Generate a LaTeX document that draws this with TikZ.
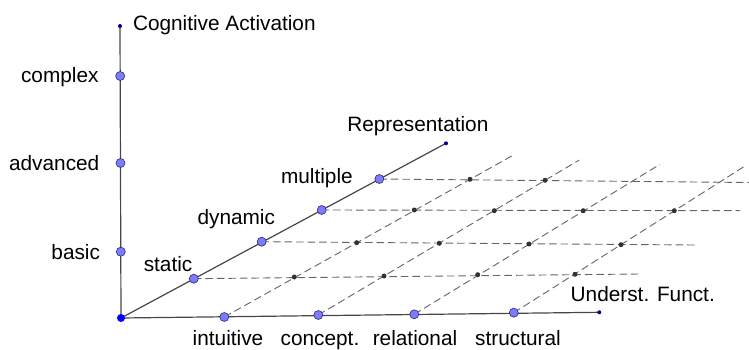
\documentclass[tikz,border=0pt]{standalone}
\usepackage{fontspec}
\setmainfont{Liberation Sans}
\usetikzlibrary{backgrounds}
\definecolor{ptfill}{RGB}{124,124,255}
\definecolor{ptdraw}{RGB}{40,40,110}
\definecolor{axisgray}{RGB}{70,70,70}
\definecolor{guidegray}{RGB}{100,100,100}
\definecolor{tipblue}{RGB}{0,0,150}
\begin{document}
\begin{tikzpicture}[x=1pt,y=-1pt,
  lbl/.style={font=\fontsize{20.8}{25}\selectfont, inner sep=0pt, outer sep=0pt},
  levelpt/.style={circle, draw=ptdraw, fill=ptfill, line width=0.6pt, inner sep=0pt, minimum size=9pt},
  originpt/.style={circle, fill=blue, inner sep=0pt, minimum size=8pt},
  meshdot/.style={circle, fill=black!80, inner sep=0pt, minimum size=5pt},
  endpt/.style={circle, fill=tipblue, inner sep=0pt, minimum size=4pt},
  axisline/.style={axisgray, line width=1.2pt},
  guide/.style={guidegray, line width=0.9pt, dash pattern=on 7.5pt off 4pt}]
\useasboundingbox (0,0) rectangle (749,350);
% axis ends
\node[originpt] (o) at (121,318) {};
\node[endpt] (ca) at (120,26) {};
\node[endpt] (re) at (446,143.3) {};
\node[endpt] (uf) at (599.3,312.3) {};
% cognitive activation
\node[levelpt] (c1) at (120.8,251.7) {};
\node[levelpt] (c2) at (120.5,163) {};
\node[levelpt] (c3) at (120.2,76) {};
% representation
\node[levelpt] (r1) at (193.8,278.7) {};
\node[levelpt] (r2) at (261.7,241.7) {};
\node[levelpt] (r3) at (321.7,210) {};
\node[levelpt] (r4) at (379.3,179) {};
% understanding of functions
\node[levelpt] (u1) at (224.3,317) {};
\node[levelpt] (u2) at (318.3,315) {};
\node[levelpt] (u3) at (414.3,314.3) {};
\node[levelpt] (u4) at (513.8,312.7) {};
% grid dots
\node[meshdot] (d11) at (294.3,277) {};
\node[meshdot] (d12) at (384,276) {};
\node[meshdot] (d13) at (477.7,274.7) {};
\node[meshdot] (d14) at (575,274.3) {};
\node[meshdot] (d21) at (356.7,242.7) {};
\node[meshdot] (d22) at (439.3,243.3) {};
\node[meshdot] (d23) at (529,244) {};
\node[meshdot] (d24) at (621,244.7) {};
\node[meshdot] (d31) at (414.3,210) {};
\node[meshdot] (d32) at (494.3,210.7) {};
\node[meshdot] (d33) at (583.3,210.7) {};
\node[meshdot] (d34) at (674.3,210.7) {};
\node[meshdot] (d41) at (470,179.3) {};
\node[meshdot] (d42) at (545,180.3) {};
% ends of the dashed lines
\coordinate (h1) at (640,274);
\coordinate (h2) at (695,245);
\coordinate (h3) at (740,210.7);
\coordinate (h4) at (749,182.5);
\coordinate (k1) at (511.7,156);
\coordinate (k2) at (579.3,160);
\coordinate (k3) at (660,164.3);
\coordinate (k4) at (745,166);
\begin{scope}[on background layer]
% dashed grid
\draw[guide] (r1.center) -- (h1);
\draw[guide] (r2.center) -- (h2);
\draw[guide] (r3.center) -- (h3);
\draw[guide] (r4.center) -- (h4);
\draw[guide] (u1.center) -- (k1);
\draw[guide] (u2.center) -- (k2);
\draw[guide] (u3.center) -- (k3);
\draw[guide] (u4.center) -- (k4);
% axes
\draw[axisline] (o.center) -- (ca.center);
\draw[axisline] (o.center) -- (re.center);
\draw[axisline] (o.center) -- (uf.center);
\end{scope}
% labels
\node[lbl, anchor=base west] at (133,30.7) {Cognitive Activation};
\node[lbl, anchor=base east] at (98.5,83) {complex};
\node[lbl, anchor=base east] at (99.3,170) {advanced};
\node[lbl, anchor=base east] at (100,259) {basic};
\node[lbl, anchor=base east] at (192.3,271.7) {static};
\node[lbl, anchor=base east] at (275,224) {dynamic};
\node[lbl, anchor=base east] at (352.7,183.3) {multiple};
\node[lbl, anchor=base west] at (347.3,131.7) {Representation};
\node[lbl, anchor=base] at (228,345) {intuitive};
\node[lbl, anchor=base] at (320,345) {concept.};
\node[lbl, anchor=base] at (415,345) {relational};
\node[lbl, anchor=base] at (518,345) {structural};
\node[lbl, anchor=base west] at (570.7,301.7) {Underst. Funct.};
\end{tikzpicture}
\end{document}
